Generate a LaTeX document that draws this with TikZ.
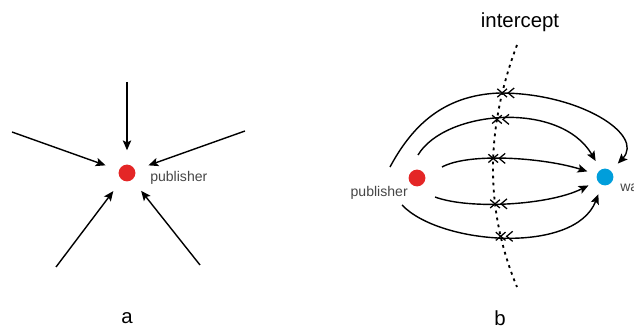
\documentclass[tikz,border=0pt]{standalone}
\usepackage{fontspec}
\setmainfont{Liberation Sans}
\usetikzlibrary{arrows.meta,shapes.misc,intersections}
\definecolor{pubred}{RGB}{228,38,38}
\definecolor{waitblue}{RGB}{0,158,219}
\definecolor{labelgray}{RGB}{70,70,70}

\begin{document}
\begin{tikzpicture}[x=0.025cm, y=-0.025cm]
\tikzstyle{dot} = [circle, minimum size=0.42cm, inner sep=0pt]
\tikzstyle{lbl} = [text=labelgray, font=\fontsize{10}{12}\selectfont, inner sep=0pt]
\tikzstyle{caption} = [font=\fontsize{14.5}{16}\selectfont, inner sep=0pt]
\tikzstyle{arrow} = [line width=1pt, -{Stealth[length=7pt,width=6pt,inset=1.5pt]}]
\tikzstyle{xmark} = [cross out, draw, line width=0.9pt, minimum width=6pt, minimum height=5pt, inner sep=0pt]
\tikzstyle{barb} = [line width=0.9pt]

\useasboundingbox (0,0) rectangle (634,328);

% a
\node (pa) [dot, fill=pubred] at (127,173) {};
\node (pal) [lbl, anchor=west] at (150,178) {publisher};
\node (capa) [caption] at (127,318) {a};

\coordinate (sa1) at (127,82);
\coordinate (sa2) at (12,132);
\coordinate (sa3) at (245,131);
\coordinate (sa4) at (56,267);
\coordinate (sa5) at (200,265);

\draw [arrow, shorten >=10pt] (sa1) -- (pa);
\draw [arrow, shorten >=10pt] (sa2) -- (pa);
\draw [arrow, shorten >=10pt] (sa3) -- (pa);
\draw [arrow, shorten >=10pt] (sa4) -- (pa);
\draw [arrow, shorten >=10pt] (sa5) -- (pa);

% b
\node (pb) [dot, fill=pubred] at (417,178) {};
\node (wb) [dot, fill=waitblue] at (605,177) {};
\node (pbl) [lbl, anchor=east] at (408,193) {publisher};
\node (wbl) [lbl, anchor=west] at (620,188) {wa};
\node (capb) [caption] at (500,318) {b};
\node (icpt) [caption] at (520,22) {intercept};

\coordinate (ctop) at (517,45);
\coordinate (cbot) at (517,287);
\draw [name path=cut, line width=1.3pt, dash pattern=on 2pt off 3pt] (ctop) .. controls (485,130) and (485,210) .. (cbot);

\coordinate (s1) at (390,167);
\coordinate (s2) at (418,155);
\coordinate (s3) at (442,167);
\coordinate (s4) at (435,197);
\coordinate (s5) at (402,205);

\draw [arrow, name path=a1, shorten >=7pt] (s1) .. controls (410,130) and (440,95) .. (500,93) .. controls (580,93) and (645,135) .. (wb);
\draw [arrow, name path=a2, shorten >=7pt] (s2) .. controls (445,110) and (560,100) .. (wb);
\draw [arrow, name path=a3, shorten >=7pt] (s3) .. controls (470,152) and (545,158) .. (wb);
\draw [arrow, name path=a4, shorten >=7pt] (s4) .. controls (470,210) and (550,205) .. (wb);
\draw [arrow, name path=a5, shorten >=7pt] (s5) .. controls (440,245) and (575,255) .. (wb);

\path [name intersections={of=cut and a1, by=c1}];
\path [name intersections={of=cut and a2, by=c2}];
\path [name intersections={of=cut and a3, by=c3}];
\path [name intersections={of=cut and a4, by=c4}];
\path [name intersections={of=cut and a5, by=c5}];

\node (x1) [xmark] at (c1) {};
\node (x2) [xmark] at (c2) {};
\node (x3) [xmark] at (c3) {};
\node (x4) [xmark] at (c4) {};
\node (x5) [xmark] at (c5) {};

\draw [barb] ([shift={(12,-5)}]c1) -- ([shift={(6,0)}]c1) -- ([shift={(12,5)}]c1);
\draw [barb] ([shift={(12,-5)}]c2) -- ([shift={(6,0)}]c2) -- ([shift={(12,5)}]c2);
\draw [barb] ([shift={(12,-5)}]c3) -- ([shift={(6,0)}]c3) -- ([shift={(12,5)}]c3);
\draw [barb] ([shift={(12,-5)}]c4) -- ([shift={(6,0)}]c4) -- ([shift={(12,5)}]c4);
\draw [barb] ([shift={(12,-5)}]c5) -- ([shift={(6,0)}]c5) -- ([shift={(12,5)}]c5);
\end{tikzpicture}
\end{document}
